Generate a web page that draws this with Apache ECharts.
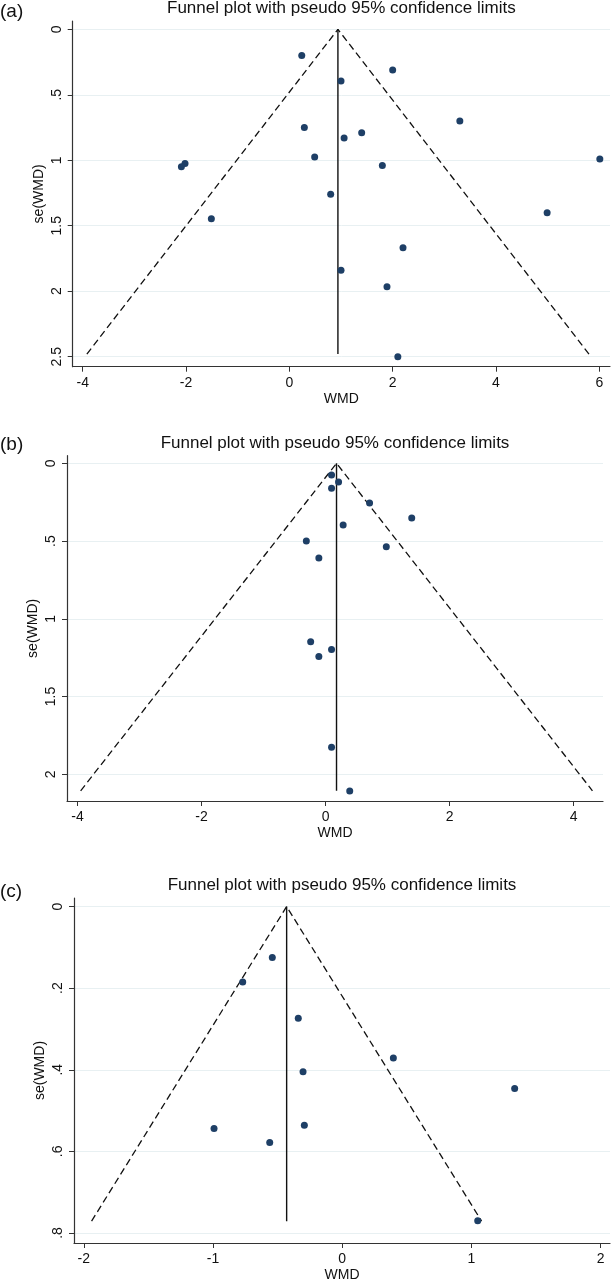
<!DOCTYPE html>
<html>
<head>
<meta charset="utf-8">
<title>Funnel plots</title>
<script src="https://cdn.jsdelivr.net/npm/echarts@6/dist/echarts.min.js"></script>
<style>
  html, body { margin: 0; padding: 0; background: #fff; }
  #chart { width: 611px; height: 1283px; }
</style>
</head>
<body>
<div id="chart"></div>
<script>
// panel (a)
const wmdA = [0.24, 2.0, 1.0, 3.3, 0.29, 1.4, 1.06, 0.49, 1.8, -2.02, -2.09, 6.01, 0.8, 4.99, -1.51, 2.2, 1.0, 1.89, 2.1]
const seA = [0.2, 0.31, 0.395, 0.70, 0.75, 0.79, 0.83, 0.976, 1.04, 1.024, 1.05, 0.99, 1.26, 1.40, 1.447, 1.668, 1.84, 1.966, 2.50]
const funnelA = [[-3.92, 2.48], [0.94, 0], [5.80, 2.48]]
const pooledA = [[0.94, 0], [0.94, 2.48]]
const xTicksA = [-4, -2, 0, 2, 4, 6]
const yTicksA = [0, 0.5, 1, 1.5, 2, 2.5]

// panel (b)
const wmdB = [0.097, 0.21, 0.097, 0.71, 1.39, 0.284, -0.31, 0.98, -0.108, -0.24, 0.097, -0.108, 0.097, 0.39]
const seB = [0.075, 0.12, 0.161, 0.255, 0.352, 0.397, 0.50, 0.536, 0.609, 1.147, 1.198, 1.243, 1.826, 2.107]
const funnelB = [[-3.95, 2.106], [0.177, 0], [4.305, 2.106]]
const pooledB = [[0.177, 0], [0.177, 2.106]]
const xTicksB = [-4, -2, 0, 2, 4]
const yTicksB = [0, 0.5, 1, 1.5, 2]

// panel (c)
const wmdC = [-0.541, -0.77, -0.34, 0.396, -0.303, 1.335, -0.293, -0.992, -0.561, 1.049]
const seC = [0.1246, 0.185, 0.274, 0.371, 0.405, 0.446, 0.536, 0.544, 0.578, 0.770]
const funnelC = [[-1.94, 0.771], [-0.43, 0], [1.079, 0.771]]
const pooledC = [[-0.43, 0], [-0.43, 0.771]]
const xTicksC = [-2, -1, 0, 1, 2]
const yTicksC = [0, 0.2, 0.4, 0.6, 0.8]

const TITLE = 'Funnel plot with pseudo 95% confidence limits'
const FONT = '"Liberation Sans", Arial, sans-serif'
const INK = '#111111'
const POINT = '#1e3f66'
const GRIDLINE = '#e8f0f2'

// stata style: drop the leading zero
function seLabel(v) {
  return v === 0 ? '0' : String(v).replace(/^0\./, '.')
}

const panels = [
  { wmd: wmdA, se: seA, funnel: funnelA, pooled: pooledA, xTicks: xTicksA, yTicks: yTicksA,
    grid: { left: 72.7, top: 21, width: 537.3, height: 345.7 },
    x: [-4.194, 6.207], y: [-0.0634, 2.5764], tag: '(a)', titleY: 8.5, tagY: 12 },
  { wmd: wmdB, se: seB, funnel: funnelB, pooled: pooledB, xTicks: xTicksB, yTicks: yTicksB,
    grid: { left: 67, top: 455.7, width: 536, height: 345.3 },
    x: [-4.17, 4.475], y: [-0.049, 2.1716], tag: '(b)', titleY: 443, tagY: 445 },
  { wmd: wmdC, se: seC, funnel: funnelC, pooled: pooledC, xTicks: xTicksC, yTicks: yTicksC,
    grid: { left: 74, top: 898, width: 536, height: 346 },
    x: [-2.076, 2.073], y: [-0.021, 0.8246], tag: '(c)', titleY: 885, tagY: 892 }
]

const grids = []
const xAxes = []
const yAxes = []
const series = []
const graphics = []

panels.forEach((p, i) => {
  grids.push(p.grid)

  xAxes.push({
    gridIndex: i,
    type: 'value',
    min: p.x[0],
    max: p.x[1],
    name: 'WMD',
    nameLocation: 'middle',
    nameGap: 25,
    nameMoveOverlap: false,
    nameTextStyle: { color: INK, fontSize: 14, fontFamily: FONT },
    axisLine: { onZero: false, lineStyle: { color: '#333', width: 1.2 } },
    axisTick: { customValues: p.xTicks, length: 5, lineStyle: { color: '#333' } },
    axisLabel: { customValues: p.xTicks, margin: 9, color: INK, fontSize: 14, fontFamily: FONT },
    splitLine: { show: false }
  })

  yAxes.push({
    gridIndex: i,
    type: 'value',
    inverse: true,
    min: p.y[0],
    max: p.y[1],
    name: 'se(WMD)',
    nameLocation: 'middle',
    nameGap: 27,
    nameMoveOverlap: false,
    nameTextStyle: { color: INK, fontSize: 14, fontFamily: FONT },
    axisLine: { show: true, onZero: false, lineStyle: { color: '#333', width: 1.2 } },
    axisTick: { show: true, customValues: p.yTicks, length: 5, lineStyle: { color: '#333' } },
    axisLabel: { customValues: p.yTicks, rotate: 90, margin: 9, color: INK, fontSize: 14, fontFamily: FONT,
      formatter: seLabel },
    splitLine: { show: true, lineStyle: { color: GRIDLINE, width: 1 } }
  })

  series.push({
    type: 'line',
    xAxisIndex: i,
    yAxisIndex: i,
    data: p.funnel,
    symbol: 'none',
    silent: true,
    lineStyle: { color: '#111', width: 1.3, type: [7, 4] },
    z: 2
  })
  series.push({
    type: 'line',
    xAxisIndex: i,
    yAxisIndex: i,
    data: p.pooled,
    symbol: 'none',
    silent: true,
    lineStyle: { color: '#111', width: 1.4 },
    z: 2
  })
  series.push({
    type: 'scatter',
    xAxisIndex: i,
    yAxisIndex: i,
    data: p.wmd.map((w, k) => [w, p.se[k]]),
    symbol: 'circle',
    symbolSize: 7,
    clip: false,
    itemStyle: { color: POINT, opacity: 1 },
    z: 3
  })

  graphics.push({
    type: 'text',
    x: p.grid.left + p.grid.width / 2,
    y: p.titleY,
    style: { text: TITLE, fill: INK, fontSize: 17, fontFamily: FONT, align: 'center', verticalAlign: 'middle' }
  })
  graphics.push({
    type: 'text',
    x: 0,
    y: p.tagY,
    style: { text: p.tag, fill: INK, fontSize: 19, fontFamily: FONT, align: 'left', verticalAlign: 'middle' }
  })
})

const chart = echarts.init(document.getElementById('chart'))
chart.setOption({
  animation: false,
  backgroundColor: '#ffffff',
  grid: grids,
  xAxis: xAxes,
  yAxis: yAxes,
  series: series,
  graphic: graphics
})
</script>
</body>
</html>
